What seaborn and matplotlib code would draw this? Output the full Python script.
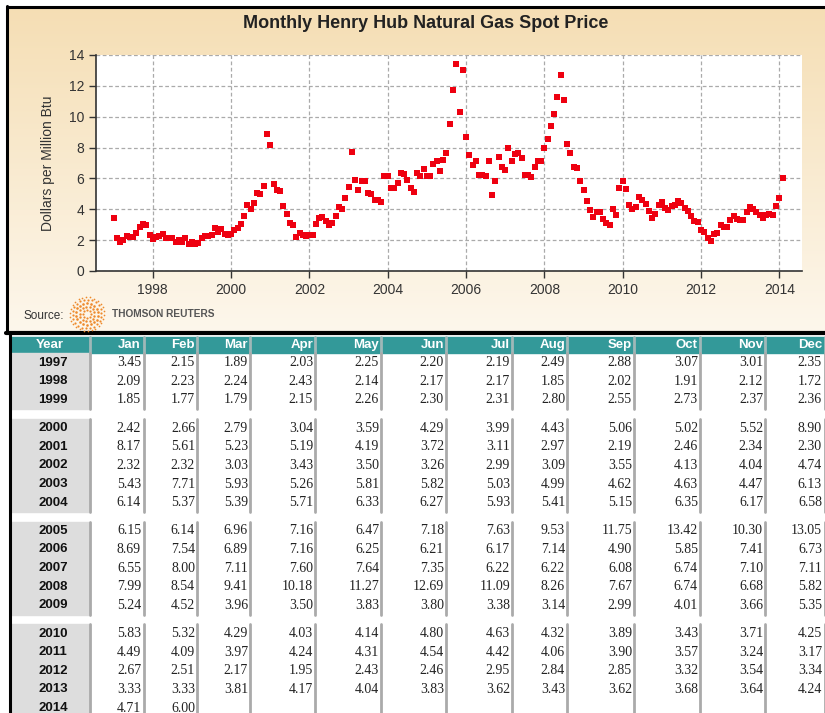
import numpy as np
import pandas as pd
import matplotlib.pyplot as plt
import seaborn as sns
from matplotlib.patches import Rectangle

years = list(range(1997, 2015))
months = ['Jan', 'Feb', 'Mar', 'Apr', 'May', 'Jun', 'Jul', 'Aug', 'Sep', 'Oct', 'Nov', 'Dec']
prices = [
    [3.45, 2.15, 1.89, 2.03, 2.25, 2.20, 2.19, 2.49, 2.88, 3.07, 3.01, 2.35],
    [2.09, 2.23, 2.24, 2.43, 2.14, 2.17, 2.17, 1.85, 2.02, 1.91, 2.12, 1.72],
    [1.85, 1.77, 1.79, 2.15, 2.26, 2.30, 2.31, 2.80, 2.55, 2.73, 2.37, 2.36],
    [2.42, 2.66, 2.79, 3.04, 3.59, 4.29, 3.99, 4.43, 5.06, 5.02, 5.52, 8.90],
    [8.17, 5.61, 5.23, 5.19, 4.19, 3.72, 3.11, 2.97, 2.19, 2.46, 2.34, 2.30],
    [2.32, 2.32, 3.03, 3.43, 3.50, 3.26, 2.99, 3.09, 3.55, 4.13, 4.04, 4.74],
    [5.43, 7.71, 5.93, 5.26, 5.81, 5.82, 5.03, 4.99, 4.62, 4.63, 4.47, 6.13],
    [6.14, 5.37, 5.39, 5.71, 6.33, 6.27, 5.93, 5.41, 5.15, 6.35, 6.17, 6.58],
    [6.15, 6.14, 6.96, 7.16, 6.47, 7.18, 7.63, 9.53, 11.75, 13.42, 10.30, 13.05],
    [8.69, 7.54, 6.89, 7.16, 6.25, 6.21, 6.17, 7.14, 4.90, 5.85, 7.41, 6.73],
    [6.55, 8.00, 7.11, 7.60, 7.64, 7.35, 6.22, 6.22, 6.08, 6.74, 7.10, 7.11],
    [7.99, 8.54, 9.41, 10.18, 11.27, 12.69, 11.09, 8.26, 7.67, 6.74, 6.68, 5.82],
    [5.24, 4.52, 3.96, 3.50, 3.83, 3.80, 3.38, 3.14, 2.99, 4.01, 3.66, 5.35],
    [5.83, 5.32, 4.29, 4.03, 4.14, 4.80, 4.63, 4.32, 3.89, 3.43, 3.71, 4.25],
    [4.49, 4.09, 3.97, 4.24, 4.31, 4.54, 4.42, 4.06, 3.90, 3.57, 3.24, 3.17],
    [2.67, 2.51, 2.17, 1.95, 2.43, 2.46, 2.95, 2.84, 2.85, 3.32, 3.54, 3.34],
    [3.33, 3.33, 3.81, 4.17, 4.04, 3.83, 3.62, 3.43, 3.62, 3.68, 3.64, 4.24],
    [4.71, 6.00, None, None, None, None, None, None, None, None, None, None],
]

records = []
for y, row in zip(years, prices):
    for m, v in enumerate(row):
        if v is not None:
            records.append({'t': y + m / 12, 'price': v})
df = pd.DataFrame(records)

sns.set_style('ticks')
plt.rcParams['font.family'] = ['Liberation Sans', 'DejaVu Sans']

W, H = 825, 713
fig = plt.figure(figsize=(W / 100, H / 100), dpi=100)

# background / frame / table layer in pixel coordinates
bg = fig.add_axes([0, 0, 1, 1], zorder=0)
bg.set_xlim(0, W)
bg.set_ylim(H, 0)
bg.axis('off')

grad = np.linspace(0, 1, 256).reshape(-1, 1)
top_c = np.array([245, 222, 180]) / 255
bot_c = np.array([253, 247, 236]) / 255
img = top_c + (bot_c - top_c) * grad[..., None]
img = np.repeat(img, 2, axis=1)
bg.imshow(img, extent=(7, W, 332, 7), aspect='auto', zorder=0)
bg.plot([6.5, W], [7, 7], color='black', lw=2.2, zorder=3)
bg.plot([6.5, 6.5], [6, 333], color='black', lw=2.2, zorder=3)
bg.plot([6, W], [333, 333], color='black', lw=3, zorder=3)
bg.plot([10, 10], [333, H], color='black', lw=2.2, zorder=3)

bg.text(426, 23, 'Monthly Henry Hub Natural Gas Spot Price', ha='center', va='center',
        fontsize=13, fontweight='bold', color='#222222')

# source + logo
bg.text(24, 316, 'Source:', ha='left', va='center', fontsize=8.5, color='#333333')
cx, cy = 87, 314
for r, n, s in [(4, 8, 2.5), (7.5, 13, 3), (11, 18, 3.5), (14.5, 22, 2.5), (17, 26, 1.5)]:
    ang = np.linspace(0, 2 * np.pi, n, endpoint=False) + r
    bg.scatter(cx + r * np.cos(ang), cy + r * np.sin(ang), s=s, color='#ee8a2c',
               linewidths=0, zorder=4)
bg.text(112, 314, 'THOMSON REUTERS', ha='left', va='center', fontsize=7.3,
        color='#555555', fontweight='bold')

# table
col_right = [141, 195, 248, 313, 379, 444, 510, 565, 632, 698, 763, 822]
col_sep = [90, 144, 197, 250, 315, 381, 446, 512, 567, 634, 700, 765, 825]
hdr_top, hdr_bot = 337, 353
row_h = 18.6
bg.add_patch(Rectangle((11, hdr_top), W - 11, hdr_bot - hdr_top, color='#339999', zorder=1))
bg.text(50, (hdr_top + hdr_bot) / 2, 'Year', ha='center', va='center', color='white',
        fontsize=9.5, fontweight='bold')
for x, m in zip(col_right, months):
    bg.text(x, (hdr_top + hdr_bot) / 2, m, ha='right', va='center', color='white',
            fontsize=9.5, fontweight='bold')
for x in col_sep:
    bg.plot([x, x], [hdr_top, hdr_bot], color='#9fb8b8', lw=2, zorder=2)

row_y = {}
for i, y in enumerate(years):
    g = (y - 1995) // 5
    row_y[y] = 362.7 + i * row_h + g * 9.7

groups = {}
for y in years:
    groups.setdefault((y - 1995) // 5, []).append(row_y[y])
for g, ys in groups.items():
    top = hdr_bot if g == 0 else ys[0] - row_h / 2
    bot = ys[-1] + row_h / 2
    bg.add_patch(Rectangle((11, top), 79, bot - top, color='#dddddd', zorder=1))
    for x in col_sep:
        bg.plot([x, x], [top, bot], color='#aaaaaa', lw=2, zorder=2)

for y, row in zip(years, prices):
    yy = row_y[y]
    bg.text(53, yy, str(y), ha='center', va='center', fontsize=9.5, fontweight='bold',
            color='#111111')
    for x, v in zip(col_right, row):
        if v is not None:
            bg.text(x, yy, f'{v:.2f}', ha='right', va='center', fontsize=10,
                    family=['Liberation Serif', 'DejaVu Serif'], color='#222222')

# chart
ax = fig.add_axes([96 / W, 1 - 271 / H, (802 - 96) / W, (271 - 55) / H], zorder=2)
ax.set_facecolor('white')
sns.scatterplot(data=df, x='t', y='price', marker='s', s=14, color='#ee0010',
                linewidth=0, ax=ax, zorder=3)
ax.set_xlim(1996.55, 2014.58)
ax.set_ylim(0, 14)
ax.set_xticks(range(1998, 2015, 2))
ax.set_yticks(range(0, 15, 2))
ax.grid(True, color='#aaaaaa', linestyle=(0, (3, 2)), linewidth=0.9)
ax.set_axisbelow(True)
for sp in ['top', 'right']:
    ax.spines[sp].set_visible(False)
for sp in ['left', 'bottom']:
    ax.spines[sp].set_color('#333333')
    ax.spines[sp].set_linewidth(1.2)
ax.tick_params(length=5, width=1, color='#333333', labelsize=10, labelcolor='#333333')
ax.set_xlabel('')
ax.set_ylabel('Dollars per Million Btu', fontsize=10, color='#333333', labelpad=10)

fig.savefig('out.png', dpi=100)
